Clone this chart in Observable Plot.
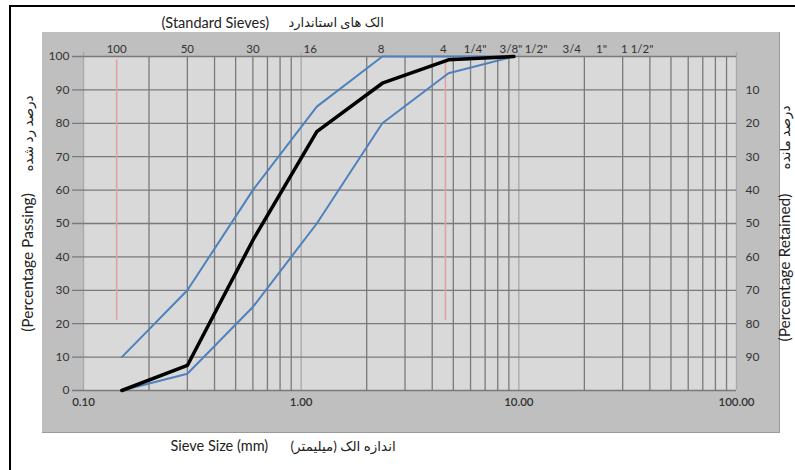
<!DOCTYPE html>
<html><head><meta charset="utf-8">
<script src="https://cdn.jsdelivr.net/npm/d3@7"></script>
<script src="https://cdn.jsdelivr.net/npm/@observablehq/plot@0.6"></script>
<style>
html,body{margin:0;padding:0;background:#fff;}
#wrap{position:relative;width:795px;height:470px;overflow:hidden;}
#frame{position:absolute;left:9px;top:5px;width:800px;height:480px;border-left:2px solid #000;border-top:2px solid #000;}
#panel{position:absolute;left:42px;top:32px;width:737px;height:400px;background:#bfbfbf;border-right:1px solid #9a9a9a;border-bottom:1px solid #9a9a9a;}
#chart{position:absolute;left:0;top:0;}
</style></head>
<body><div id="wrap"><div id="frame"></div><div id="panel"></div><div id="chart"></div></div>
<script>
// Sieve sizes (mm) and grading curves (% passing)
const sieveSizes = [0.15, 0.3, 0.6, 1.18, 2.36, 4.75, 9.5];
const upperLimit = [10, 30, 60, 85, 100, 100, 100];
const lowerLimit = [0, 5, 25, 50, 80, 95, 100];
const sampleCurve = [0, 7.5, 45, 77.5, 92, 99, 100];

// Standard sieve names shown on top axis, with their positions (mm) as read
const sieveLabels = ["100", "50", "30", "16", "8", "4", "1/4\"", "3/8\"", "1/2\"", "3/4", "1\"", "1 1/2\""];
const sieveLabelPos = [0.142, 0.3, 0.6, 1.1, 2.33, 4.5, 6.3, 9.2, 12, 17.5, 24, 35];

// Bottom axis ticks
const xTicks = [0.1, 1, 10, 100];
const xTickLabels = ["0.10", "1.00", "10.00", "100.00"];
// minor (log) grid lines
const minorGrid = [0.2,0.3,0.4,0.5,0.6,0.7,0.8,0.9,2,3,4,5,6,7,8,9,20,30,40,50,60,70,80,90];
// y ticks
const yTicks = [0,10,20,30,40,50,60,70,80,90,100];
const retainedTicks = [10,20,30,40,50,60,70,80,90];

// red reference lines (mm) and their extent (% passing)
const refLines = [0.142, 4.6];
const refLow = 21, refHigh = 99;

const toPts = (ys) => sieveSizes.map((x, i) => ({x, y: ys[i]}));
const font = "Lato, 'DejaVu Sans', sans-serif";

const chart = Plot.plot({
  width: 795, height: 470,
  marginLeft: 83, marginRight: 59, marginTop: 56, marginBottom: 80,
  style: {background: "transparent", fontFamily: font, fontSize: "12px", color: "#333"},
  x: {type: "log", domain: [0.1, 100], axis: null},
  y: {domain: [0, 100], axis: null},
  marks: [
    Plot.frame({fill: "#d9d9d9", stroke: null}),
    // minor grid
    Plot.ruleX(minorGrid, {stroke: "#7a7a7a", strokeWidth: 1.3}),
    // decade lines (lighter), with tick extension above
    Plot.ruleX(xTicks, {stroke: "#a8a8a8", strokeWidth: 1.3, y1: 101.2, y2: 0}),
    // horizontal grid with left tick extension
    Plot.ruleY(yTicks, {stroke: "#7a7a7a", strokeWidth: 1.3, x1: 0.089, x2: 100}),
    // red reference lines
    Plot.ruleX(refLines, {y1: refLow, y2: refHigh, stroke: "#e0a0a2", strokeWidth: 1.5}),
    // curves
    Plot.line(toPts(upperLimit), {x: "x", y: "y", stroke: "#4f81bd", strokeWidth: 2}),
    Plot.line(toPts(lowerLimit), {x: "x", y: "y", stroke: "#4f81bd", strokeWidth: 2}),
    Plot.line(toPts(sampleCurve), {x: "x", y: "y", stroke: "#000", strokeWidth: 3.5}),
    // left y labels
    Plot.text(yTicks, {y: d => d, text: d => String(d), frameAnchor: "left", dx: -14, textAnchor: "end", fill: "#333", fontSize: 12}),
    // right y labels (retained)
    Plot.text(retainedTicks, {y: d => 100 - d, text: d => String(d), frameAnchor: "right", dx: 9, textAnchor: "start", fill: "#333", fontSize: 12}),
    // bottom x labels
    Plot.text(xTicks, {x: d => d, text: (d, i) => xTickLabels[i], frameAnchor: "bottom", dy: 15, fill: "#333", fontSize: 11.5, fontWeight: 600}),
    // top sieve labels
    Plot.text(sieveLabelPos, {x: d => d, text: (d, i) => sieveLabels[i], frameAnchor: "top", dy: -12, fill: "#333", fontSize: 11.5}),
    // titles
    Plot.text(["(Standard Sieves)"], {frameAnchor: "top-left", dx: 78, dy: -39, textAnchor: "start", fontSize: 14.5, fill: "#222"}),
    Plot.text(["الک های استاندارد"], {frameAnchor: "top-left", dx: 205, dy: -39, textAnchor: "start", fontSize: 13, fill: "#222"}),
    Plot.text(["Sieve Size (mm)"], {frameAnchor: "bottom-left", dx: 87, dy: 60, textAnchor: "start", fontSize: 14.5, fill: "#222"}),
    Plot.text(["اندازه الک (میلیمتر)\u200F"], {frameAnchor: "bottom-left", dx: 207, dy: 60, textAnchor: "start", fontSize: 13.5, fill: "#222"}),
    Plot.text(["(Percentage Passing)"], {frameAnchor: "left", dx: -55, dy: 39, rotate: -90, textAnchor: "middle", fontSize: 15.5, fill: "#222"}),
    Plot.text(["درصد رد شده"], {frameAnchor: "left", dx: -55, dy: -90, rotate: -90, textAnchor: "middle", fontSize: 13.5, fill: "#222"}),
    Plot.text(["(Percentage Retained)"], {frameAnchor: "right", dx: 49, dy: 44, rotate: -90, textAnchor: "middle", fontSize: 15.5, fill: "#222"}),
    Plot.text(["درصد مانده"], {frameAnchor: "right", dx: 49, dy: -86, rotate: -90, textAnchor: "middle", fontSize: 13.5, fill: "#222"})
  ]
});
document.getElementById("chart").appendChild(chart);
</script></body></html>
